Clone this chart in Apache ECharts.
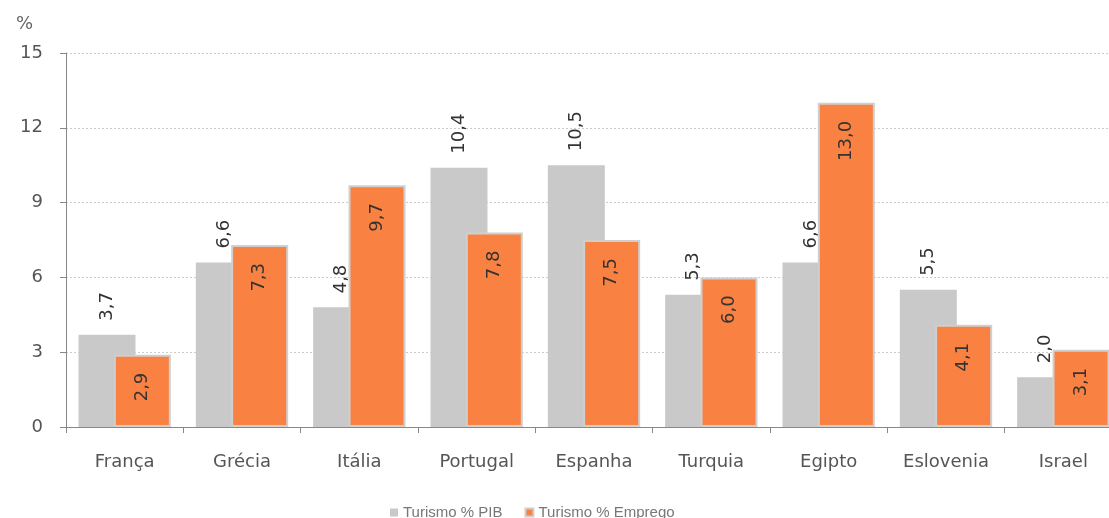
<!DOCTYPE html>
<html>
<head>
<meta charset="utf-8">
<script src="https://cdn.jsdelivr.net/npm/echarts@6/dist/echarts.min.js"></script>
<style>
  html, body { margin: 0; padding: 0; background: #fff; }
  #chart { width: 1109px; height: 518px; }
</style>
</head>
<body>
<div id="chart"></div>
<script>
var paises = ['França', 'Grécia', 'Itália', 'Portugal', 'Espanha', 'Turquia', 'Egipto', 'Eslovenia', 'Israel'];
var pib = [3.7, 6.6, 4.8, 10.4, 10.5, 5.3, 6.6, 5.5, 2.0];
var emprego = [2.9, 7.3, 9.7, 7.8, 7.5, 6.0, 13.0, 4.1, 3.1];

var fmt = p => p.value.toFixed(1).replace('.', ',');
var labelFont = {fontFamily: 'DejaVu Sans', fontSize: 18, color: '#333'};

var chart = echarts.init(document.getElementById('chart'));
chart.setOption({
    animation: false,
    title: {
        text: '%', left: 11, top: 10,
        textStyle: {fontFamily: 'DejaVu Sans', fontSize: 18, fontWeight: 'normal', color: '#666'}
    },
    legend: {
        top: 500, left: 385,
        itemWidth: 8, itemHeight: 8, itemGap: 22,
        icon: 'rect',
        textStyle: {fontFamily: 'Liberation Sans', fontSize: 15, color: '#777'},
        data: ['Turismo % PIB', 'Turismo % Emprego']
    },
    // the plot runs past the right edge of the page, as in the original
    grid: {left: 66, top: 53, bottom: 91, width: 1056, containLabel: false, outerBoundsMode: 'none'},
    xAxis: {
        type: 'category',
        data: paises,
        axisLine: {lineStyle: {color: '#888'}},
        axisTick: {show: true, length: 6, lineStyle: {color: '#888'}},
        axisLabel: {fontFamily: 'DejaVu Sans', fontSize: 18, color: '#555', margin: 26}
    },
    yAxis: {
        type: 'value',
        min: 0, max: 15, interval: 3,
        axisLine: {show: true, lineStyle: {color: '#888'}},
        axisTick: {show: true, length: 6, lineStyle: {color: '#888'}},
        axisLabel: {fontFamily: 'DejaVu Sans', fontSize: 18, color: '#555', margin: 23},
        splitLine: {lineStyle: {color: '#ccc', type: [2, 2]}}
    },
    series: [
        {
            name: 'Turismo % PIB',
            type: 'bar',
            data: pib,
            barWidth: 57,
            barGap: '-38%',
            itemStyle: {color: '#c9c9c9'},
            label: Object.assign({
                show: true, position: 'top', rotate: 90,
                align: 'left', verticalAlign: 'middle', distance: 14,
                formatter: fmt
            }, labelFont)
        },
        {
            name: 'Turismo % Emprego',
            type: 'bar',
            data: emprego,
            barWidth: 57,
            itemStyle: {color: '#f98242', borderColor: '#cfcfcf', borderWidth: 2},
            label: Object.assign({
                show: true, position: 'insideTop', rotate: 90,
                align: 'right', verticalAlign: 'middle', distance: 18,
                formatter: fmt
            }, labelFont)
        }
    ]
});
</script>
</body>
</html>
